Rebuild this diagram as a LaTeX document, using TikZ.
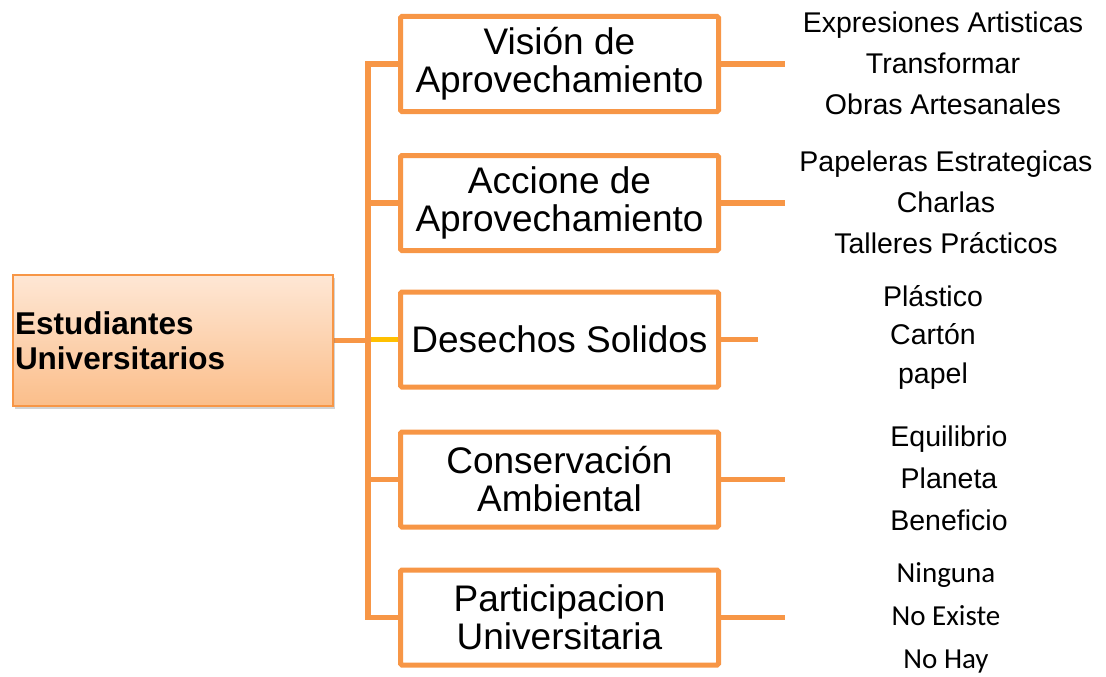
\documentclass[tikz,border=0pt]{standalone}
\usepackage{fontspec}
\setmainfont{Liberation Sans}
\newfontfamily\calibrifont{Carlito}
\usetikzlibrary{shadows,backgrounds}

\definecolor{borange}{HTML}{F79646}
\definecolor{byellow}{HTML}{FFC000}
\definecolor{peachtop}{HTML}{FEE7D5}
\definecolor{peachbot}{HTML}{FBBE8A}

\begin{document}
\begin{tikzpicture}[x=1pt,y=-1pt,
    rootbox/.style={draw=borange, line width=1.5pt, top color=peachtop, bottom color=peachbot,
      drop shadow={shadow xshift=2pt, shadow yshift=-3pt, opacity=.35},
      minimum width=320pt, minimum height=131pt, text width=316pt, inner xsep=2pt,
      align=left, font=\fontsize{31.5}{35}\selectfont\bfseries},
    catbox/.style={draw=borange, line width=5pt, rounded corners=1.5pt, fill=white,
      minimum width=318pt, minimum height=95pt, inner sep=0pt, align=center,
      font=\fontsize{37}{38}\selectfont},
    itemlist/.style={align=center, inner sep=0pt, font=\fontsize{28.5}{#1}\selectfont},
    itemlist/.default=41,
    link/.style={draw=borange, line width=5.5pt},
    yellowlink/.style={draw=byellow, line width=5.5pt}]
  \useasboundingbox (0,0) rectangle (1106,677);

  % root
  \node[rootbox] (root) at (173,340.5) {Estudiantes\\Universitarios};

  % category boxes
  \node[catbox] (vision)   at (559.5,64)  {Visión de\\Aprovechamiento};
  \node[catbox] (accion)   at (559.5,203) {Accione de\\Aprovechamiento};
  \node[catbox] (desechos) at (559.5,339.5) {Desechos Solidos};
  \node[catbox] (conserv)  at (559.5,479.5) {Conservación\\Ambiental};
  \node[catbox] (particip) at (559.5,617.5) {Participacion\\Universitaria};

  % trunk corners and free ends
  \coordinate (trunkTop) at (368,64);
  \coordinate (trunkBot) at (368,617.5);
  \coordinate (visionEnd)   at (785,64);
  \coordinate (accionEnd)   at (785,203);
  \coordinate (desechosEnd) at (758,339.5);
  \coordinate (conservEnd)  at (785,479.5);
  \coordinate (participEnd) at (785,617.5);

  % word lists
  \node[itemlist] (visionItems)   at (943,63)  {Expresiones Artisticas\\Transformar\\Obras Artesanales};
  \node[itemlist] (accionItems)   at (946,202) {Papeleras Estrategicas\\Charlas\\Talleres Prácticos};
  \node[itemlist=38.5] (desechosItems) at (933,337) {Plástico\\Cartón\\papel};
  \node[itemlist=42] (conservItems)  at (949,478.5) {Equilibrio\\Planeta\\Beneficio};
  \node[itemlist=43, font=\calibrifont\fontsize{29}{43}\selectfont] (participItems) at (946,618) {Ninguna\\No Existe\\No Hay};

  % connectors
  \begin{scope}[on background layer]
    \draw[link] (vision.west) -| (trunkBot) -- (particip.west);
    \draw[link] (accion.west) -- (accion.west -| trunkTop);
    \draw[link] (conserv.west) -- (conserv.west -| trunkTop);
    \draw[link] (root.east) -- (root.east -| trunkTop);
    \draw[yellowlink] (desechos.west) -- ([xshift=2.75pt]desechos.west -| trunkTop);
    \draw[link] (vision.east) -- (visionEnd);
    \draw[link] (accion.east) -- (accionEnd);
    \draw[link] (desechos.east) -- (desechosEnd);
    \draw[link] (conserv.east) -- (conservEnd);
    \draw[link] (particip.east) -- (participEnd);
  \end{scope}
\end{tikzpicture}
\end{document}
